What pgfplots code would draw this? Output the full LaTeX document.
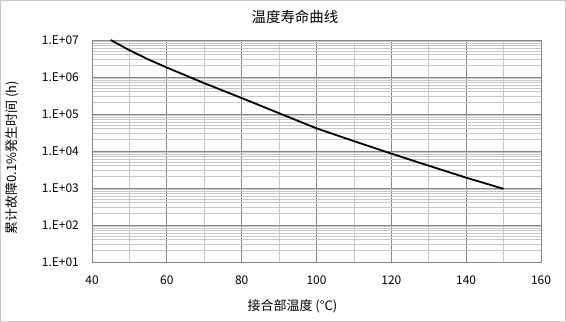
\documentclass[border=0pt]{standalone}
\usepackage{fontspec}
\setmainfont{Noto Sans CJK SC}
\usepackage{pgfplots}
\pgfplotsset{compat=1.18}
\definecolor{majgrid}{RGB}{134,134,134}
\definecolor{mingrid}{RGB}{200,200,200}
\definecolor{frame}{RGB}{200,200,200}
\begin{document}
\begin{tikzpicture}
\draw[draw=frame, line width=1bp, fill=white] (0.5bp,0.5bp) rectangle (565.5bp,321.5bp);
\begin{axis}[
  at={(92bp,60bp)}, anchor=south west,
  width=449bp, height=222bp, scale only axis,
  xmin=40, xmax=160,
  ymode=log, ymin=1e1, ymax=1e7,
  xtick={40,60,...,160}, minor x tick num=1,
  ytick={1e1,1e2,1e3,1e4,1e5,1e6,1e7},
  yticklabels={1.E+01,1.E+02,1.E+03,1.E+04,1.E+05,1.E+06,1.E+07},
  grid=both,
  major grid style={draw=majgrid, line width=0.8bp},
  minor grid style={draw=mingrid, line width=0.8bp},
  axis line style={draw=majgrid, line width=0.8bp},
  major tick length=0pt, minor tick length=0pt,
  /pgf/number format/assume math mode=true,
  ticklabel style={font=\fontsize{12}{12}\selectfont},
  xticklabel style={anchor=center, yshift=-18bp},
  yticklabel style={anchor=east, inner sep=0pt, xshift=-13bp},
  title={温度寿命曲线},
  title style={font=\fontsize{14.5}{14.5}\selectfont, at={(axis description cs:0.452,1.099)}, anchor=center, yshift=-5bp},
  xlabel={接合部温度 (°C)},
  xlabel style={font=\fontsize{13}{13}\selectfont, at={(axis description cs:0.4465,-0.2)}, anchor=center},
  ylabel={累计故障0.1\%発生时间 (h)},
  ylabel style={font=\fontsize{13}{13}\selectfont, at={(axis description cs:-0.177,0.4707)}, anchor=center, rotate=0},
]
\addplot[black, line width=1.8bp] coordinates {
(45,1.0e7) (50,5.3e6) (55,3.0e6) (60,1.8e6) (70,6.8e5) (80,2.7e5)
(90,1.05e5) (100,4.1e4) (110,1.85e4) (120,8.5e3) (130,4.0e3)
(140,1.9e3) (150,9.5e2)
};
\end{axis}
\end{tikzpicture}
\end{document}
